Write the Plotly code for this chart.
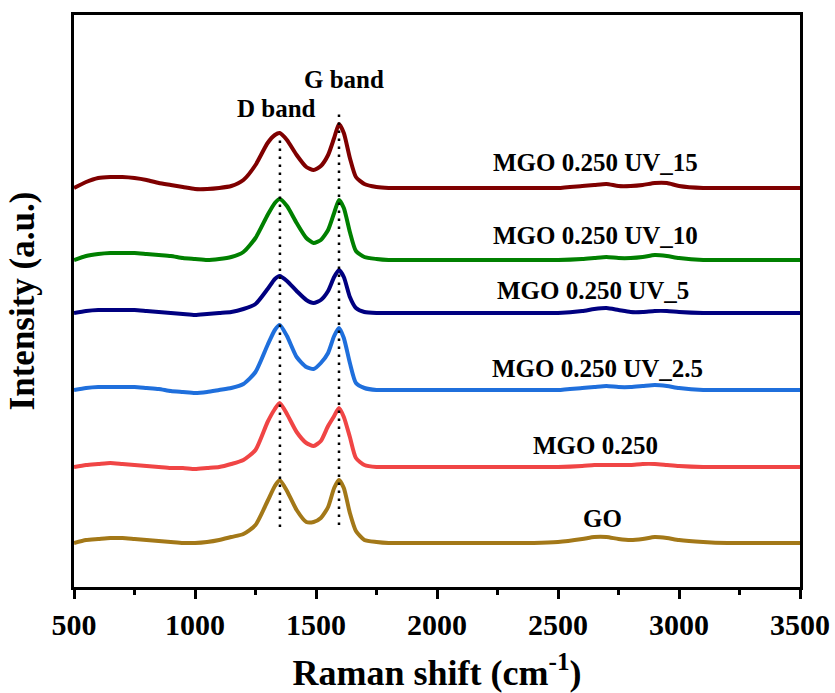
import plotly.graph_objects as go

# Raman shift grid (cm^-1)
shift = [500, 550, 600, 650, 700, 750, 800, 850, 900, 950, 1000, 1050, 1100, 1150,
         1200, 1250, 1300, 1330, 1350, 1380, 1420, 1460, 1490, 1520, 1550, 1575,
         1595, 1615, 1640, 1665, 1700, 1750, 1800, 1900, 2000, 2100, 2200, 2300,
         2400, 2500, 2600, 2650, 2700, 2750, 2800, 2850, 2900, 2950, 3000, 3100,
         3200, 3300, 3400, 3500]

# Baseline-relative intensities (a.u.)
go_spec = [0, 3, 4, 5, 5, 4, 3, 2, 1, 0, 0, 1, 3, 6,
           9, 18, 42, 57, 63, 52, 33, 21, 21, 25, 36, 55,
           63, 55, 30, 12, 3, 1, 0, 0, 0, 0, 0, 0,
           0, 1, 4, 6, 6, 4, 3, 4, 6, 5, 3, 1,
           0, 0, 0, 0]
mgo_spec = [0, 2, 3, 4, 3, 2, 1, 0, -1, -1, -2, -1, 0, 3,
            7, 17, 45, 58, 64, 53, 35, 24, 21, 26, 41, 51,
            59, 50, 30, 9, 2, 0, 0, 0, 0, 0, 0, 0,
            0, 0, 1, 2, 2, 2, 2, 3, 3, 2, 1, 0,
            0, 0, 0, 0]
uv25_spec = [0, 2, 3, 3, 3, 3, 2, 1, -1, -2, -3, -2, 0, 2,
             6, 18, 45, 60, 65, 54, 33, 23, 21, 27, 37, 54,
             62, 52, 27, 7, 2, 0, 0, 0, 0, 0, 0, 0,
             0, 0, 2, 3, 4, 3, 3, 4, 5, 4, 2, 0,
             0, 0, 0, 0]
uv5_spec = [0, 2, 3, 3, 3, 3, 2, 1, 0, -1, -2, -1, 0, 1,
            4, 9, 24, 34, 37, 32, 22, 13, 10, 13, 22, 36,
            43, 36, 16, 5, 1, 0, 0, 0, 0, 0, 0, 0,
            0, 0, 2, 4, 5, 3, 1, 1, 2, 2, 1, 0,
            0, 0, 0, 0]
uv10_spec = [0, 4, 6, 7, 7, 7, 6, 5, 4, 2, 1, 0, 1, 3,
             8, 22, 45, 57, 61, 54, 37, 22, 17, 20, 30, 47,
             60, 52, 28, 9, 3, 1, 0, 0, 0, 0, 0, 0,
             0, 0, 1, 2, 3, 2, 2, 3, 5, 4, 2, 0,
             0, 0, 0, 0]
uv15_spec = [0, 6, 10, 11, 11, 10, 8, 5, 3, 1, -1, -1, 0, 2,
             8, 23, 45, 53, 55, 48, 33, 21, 18, 22, 33, 50,
             64, 55, 30, 11, 4, 1, 0, 0, 0, 0, 0, 0,
             0, 0, 2, 3, 4, 2, 2, 3, 5, 5, 2, 0,
             0, 0, 0, 0]

# Sample names, stacking offsets and colours (bottom to top)
names = ["GO", "MGO 0.250", "MGO 0.250 UV_2.5", "MGO 0.250 UV_5",
         "MGO 0.250 UV_10", "MGO 0.250 UV_15"]
spectra = [go_spec, mgo_spec, uv25_spec, uv5_spec, uv10_spec, uv15_spec]
offsets = [44, 120, 197, 274, 327, 399]
colors = ["#a37818", "#f04545", "#1f6fdc", "#000080", "#008000", "#7f0000"]

# Label anchor points (shift, intensity)
label_x = [2682, 2657, 2665, 2645, 2657, 2653]
label_y = [69, 142, 219, 297, 352, 425]

# Band positions and guide extents
band_names = ["D band", "G band"]
band_pos = [1351, 1595]
band_guide_low = [60, 62]
band_guide_high = [452, 478]
band_label_x = [1335, 1616]
band_label_y = [479, 508]

FONT = "Liberation Serif, Times New Roman, serif"
TICKS = [500, 1000, 1500, 2000, 2500, 3000, 3500]
MINOR_TICKS = [750, 1250, 1750, 2250, 2750, 3250]

fig = go.Figure()
for name, spec, off, col in zip(names, spectra, offsets, colors):
    fig.add_trace(go.Scatter(
        x=shift, y=[v + off for v in spec], mode="lines", name=name,
        line=dict(color=col, width=4, shape="spline", smoothing=0.6),
        showlegend=False, hoverinfo="skip"))

for pos, lo, hi in zip(band_pos, band_guide_low, band_guide_high):
    fig.add_trace(go.Scatter(
        x=[pos, pos], y=[lo, hi], mode="lines",
        line=dict(color="black", width=2.5, dash="2.5px,5.5px"),
        showlegend=False, hoverinfo="skip"))

annotations = []
for name, lx, ly in zip(names, label_x, label_y):
    annotations.append(dict(x=lx, y=ly, xref="x", yref="y", text=f"<b>{name}</b>",
                            showarrow=False, font=dict(family=FONT, size=25, color="black")))
for name, lx, ly in zip(band_names, band_label_x, band_label_y):
    annotations.append(dict(x=lx, y=ly, xref="x", yref="y", text=f"<b>{name}</b>",
                            showarrow=False, font=dict(family=FONT, size=25, color="black")))

fig.update_layout(
    width=835, height=693,
    margin=dict(l=74, r=35, t=15, b=106, autoexpand=False),
    paper_bgcolor="white", plot_bgcolor="white",
    annotations=annotations,
    font=dict(family=FONT, color="black"),
)
fig.update_xaxes(
    range=[500, 3500], showgrid=False, zeroline=False, automargin=False,
    showline=True, linewidth=3, linecolor="black", mirror=True,
    ticks="outside", ticklen=9, tickwidth=3, tickcolor="black",
    tickvals=TICKS, ticktext=[f"<b>{t}</b>" for t in TICKS],
    tickfont=dict(family=FONT, size=30, color="black"),
    minor=dict(tickvals=MINOR_TICKS, ticks="outside",
               ticklen=5, tickwidth=3, tickcolor="black"),
    title=dict(text="<b>Raman shift (cm<sup>-1</sup>)</b>",
               font=dict(family=FONT, size=36, color="black"), standoff=24),
)
fig.update_yaxes(
    range=[0, 572], showgrid=False, zeroline=False, automargin=False,
    showline=True, linewidth=3, linecolor="black", mirror=True,
    showticklabels=False, ticks="",
    title=dict(text="<b>Intensity (a.u.)</b>",
               font=dict(family=FONT, size=35, color="black"), standoff=26),
)

fig.write_html("out.html")
